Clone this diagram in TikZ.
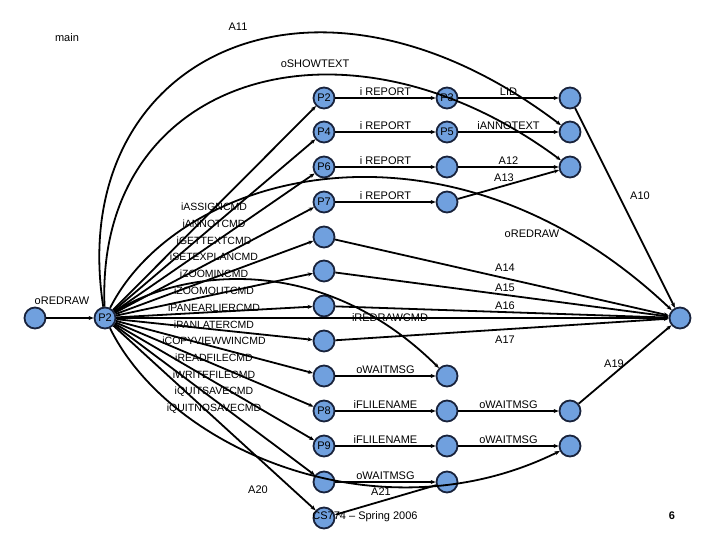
\documentclass[tikz,border=0pt]{standalone}
\usepackage{fontspec}
\setmainfont{Liberation Sans}
\usetikzlibrary{arrows.meta}
\definecolor{nodeblue}{RGB}{112,160,222}
\definecolor{navy}{RGB}{25,35,60}
\begin{document}
\begin{tikzpicture}[x=1pt,y=-1pt,
  st/.style={circle,draw=navy,line width=1.8pt,fill=nodeblue,minimum size=21pt,inner sep=0pt,font=\fontsize{11}{11}\selectfont},
  e/.style={line width=1.8pt,-{Stealth[length=5pt,width=4pt]}},
  lb/.style={font=\fontsize{11}{11}\selectfont,inner sep=1.5pt},
  cmdl/.style={font=\fontsize{10.5}{10.5}\selectfont,inner sep=0pt}]
\useasboundingbox (0,0) rectangle (720,540);
\node[lb] (tmain) at (67,38) {main};
% nodes
\node[st] (L) at (35,318) {};
\node[st] (P) at (105,318) {P2};
\node[st] (a1) at (324,98) {P2};
\node[st] (a2) at (324,132) {P4};
\node[st] (a3) at (324,167) {P6};
\node[st] (a4) at (324,202) {P7};
\node[st] (a5) at (324,237) {};
\node[st] (a6) at (324,271) {};
\node[st] (a7) at (324,306) {};
\node[st] (a8) at (324,341) {};
\node[st] (a9) at (324,376) {};
\node[st] (a10) at (324,411) {P8};
\node[st] (a11) at (324,446) {P9};
\node[st] (a12) at (324,482) {};
\node[st] (a13) at (324,518) {};
\node[st] (b1) at (447,98) {P3};
\node[st] (b2) at (447,132) {P5};
\node[st] (b3) at (447,167) {};
\node[st] (b4) at (447,202) {};
\node[st] (b9) at (447,376) {};
\node[st] (b10) at (447,411) {};
\node[st] (b11) at (447,446) {};
\node[st] (b12) at (447,482) {};
\node[st] (c1) at (570,98) {};
\node[st] (c2) at (570,132) {};
\node[st] (c3) at (570,167) {};
\node[st] (c10) at (570,411) {};
\node[st] (c11) at (570,446) {};
\node[st] (R) at (680,318) {};
% edges
\draw[e] (L) -- (P);
\node[lb] (toredraw) at (62,301) {oREDRAW};
\foreach \n in {a1,a2,a3,a4,a5,a6,a7,a8,a9,a10,a11,a12,a13} \draw[e] (P) -- (\n);
\foreach \t [count=\i] in {iASSIGNCMD,iANNOTCMD,iGETTEXTCMD,iSETEXPLANCMD,iZOOMINCMD,iZOOMOUTCMD,iPANEARLIERCMD,iPANLATERCMD,iCOPYVIEWWINCMD,iREADFILECMD,iWRITEFILECMD,iQUITSAVECMD,iQUITNOSAVECMD}
  \node[cmdl] (cl\i) at (214,190+\i*16.8) {\t};
\draw[e] (P) .. controls (65,60) and (310,-65) .. (c2);
\node[lb] (tA11) at (238,27) {A11};
\draw[e] (P) .. controls (95,75) and (345,0) .. (c3);
\node[lb] (tshow) at (315,64) {oSHOWTEXT};
\draw[e] (P) .. controls (180,170) and (450,100) .. (R);
\node[lb] (tred2) at (532,234) {oREDRAW};
\draw[e] (P) .. controls (180,270) and (320,250) .. (b9);
\draw[e] (P) -- (R);
\node[lb] (tredcmd) at (390,318) {iREDRAWCMD};
\draw[e] (P) .. controls (170,450) and (380,540) .. (c11);
\node[lb] (tA20) at (258,490) {A20};
\foreach \x/\y/\t in {a1/b1/i REPORT,a2/b2/i REPORT,a3/b3/i REPORT,a4/b4/i REPORT,a9/b9/oWAITMSG,a10/b10/iFLILENAME,a11/b11/iFLILENAME,a12/b12/oWAITMSG,b1/c1/LID,b2/c2/iANNOTEXT,b10/c10/oWAITMSG,b11/c11/oWAITMSG}
  \draw[e] (\x) -- node[lb,above] {\t} (\y);
\draw[e] (b3) -- node[lb,above] {A12} (c3);
\draw[e] (b4) -- (c3);
\node[lb] (tA13) at (504,178) {A13};
\draw[e] (b12) -- (a13);
\node[lb] (tA21) at (381,492) {A21};
\draw[e] (c1) -- (R);
\node[lb] (tA10) at (640,196) {A10};
\draw[e] (a5) -- (R);
\node[lb] (tA14) at (505,268) {A14};
\draw[e] (a6) -- (R);
\node[lb] (tA15) at (505,288) {A15};
\draw[e] (a7) -- (R);
\node[lb] (tA16) at (505,306) {A16};
\draw[e] (a8) -- (R);
\node[lb] (tA17) at (505,340) {A17};
\draw[e] (c10) -- (R);
\node[lb] (tA19) at (614,364) {A19};
\node[font=\fontsize{11}{11}\selectfont] (foot) at (365,517) {CS774 -- Spring 2006};
\node[font=\bfseries\fontsize{11}{11}\selectfont] (pg) at (672,516) {6};
\end{tikzpicture}
\end{document}
